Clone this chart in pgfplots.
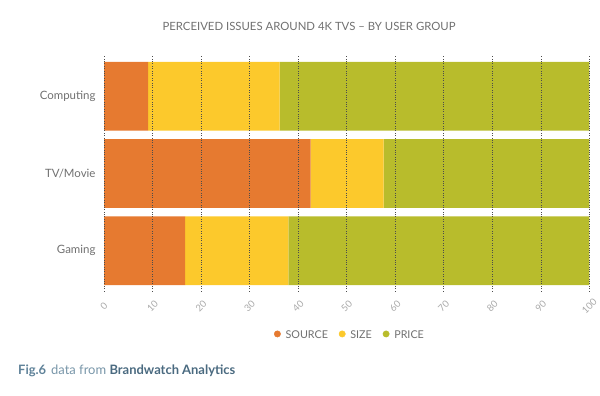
\documentclass[border=0pt]{standalone}
\usepackage{pgfplots}
\pgfplotsset{compat=1.18}
\usepackage{fontspec}
\setmainfont{Lato}
\definecolor{csource}{HTML}{E67A30}
\definecolor{csize}{HTML}{FCC92C}
\definecolor{cprice}{HTML}{B8BC2C}
\definecolor{txt}{HTML}{707070}
\definecolor{figc}{HTML}{5F8299}
\definecolor{figd}{HTML}{4A6A80}
\begin{document}
\begin{tikzpicture}[x=1bp,y=1bp]
\path[use as bounding box] (0,0) rectangle (600,395);
\begin{axis}[
  at={(104bp,104bp)}, anchor=south west,
  scale only axis, width=485.3bp, height=235bp,
  xbar stacked,
  xmin=0, xmax=100,
  ymin=-0.52, ymax=2.52,
  bar width=0.89,
  axis line style={draw=none},
  major tick length=0pt,
  xtick={0,10,...,100},
  ytick={0,1,2},
  yticklabels={Gaming,TV/Movie,Computing},
  xmajorgrids,
  grid style={dotted, black!70, line width=0.5pt},
  axis on top,
  /pgf/number format/assume math mode=true,
  xticklabel style={yshift=-15bp, rotate=45, anchor=center, font=\fontsize{9.5}{10}\selectfont, text=txt!60, inner sep=0bp},
  yticklabel style={font=\fontsize{11.5}{13}\selectfont, text=txt, xshift=-5bp},
  legend style={at={(0.507,-0.187)}, anchor=center, draw=none, legend columns=3,
    font=\fontsize{10.8}{12}\selectfont, text=txt,
    /tikz/every odd column/.append style={column sep=3bp},
    /tikz/every even column/.append style={column sep=9bp}},
  legend cell align=left,
]
\addlegendimage{only marks, mark=*, mark size=3.2pt, color=csource}
\addlegendentry{SOURCE}
\addlegendimage{only marks, mark=*, mark size=3.2pt, color=csize}
\addlegendentry{SIZE}
\addlegendimage{only marks, mark=*, mark size=3.2pt, color=cprice}
\addlegendentry{PRICE}
\addplot[fill=csource, draw=none, forget plot] coordinates {(16.7,0) (42.6,1) (9.1,2)};
\addplot[fill=csize, draw=none, forget plot] coordinates {(21.3,0) (15.0,1) (27.1,2)};
\addplot[fill=cprice, draw=none, forget plot] coordinates {(62.0,0) (42.4,1) (63.8,2)};
\end{axis}
\node[text=txt, font=\fontsize{11.4}{13}\selectfont] at (309,369) {PERCEIVED ISSUES AROUND 4K TVS -- BY USER GROUP};
\node[anchor=west, font=\fontsize{13}{15}\selectfont, inner sep=0pt] at (18,24) {\textcolor{figc}{\textbf{Fig.6}}\hspace{5bp}\textcolor{figc!85}{data from} \textcolor{figd}{\textbf{Brandwatch Analytics}}};
\end{tikzpicture}
\end{document}
